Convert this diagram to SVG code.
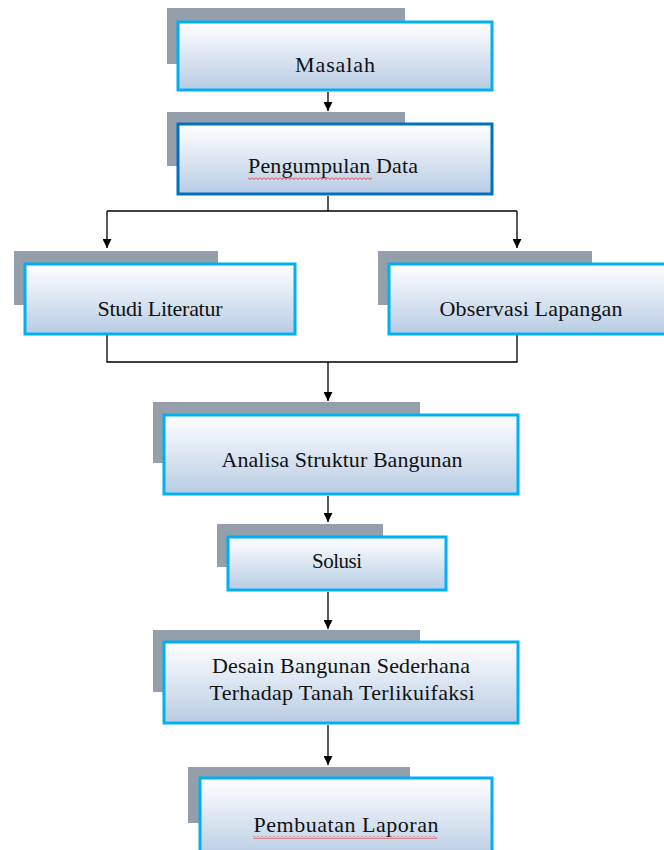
<svg xmlns="http://www.w3.org/2000/svg" width="664" height="850" viewBox="0 0 664 850">
<defs>
<linearGradient id="g" x1="0" y1="0" x2="0" y2="1">
<stop offset="0" stop-color="#ffffff"/>
<stop offset="1" stop-color="#b8cce4"/>
</linearGradient>
<pattern id="wave" x="0" y="0" width="4" height="3" patternUnits="userSpaceOnUse">
<path d="M0,0.5 L2,2.5 L4,0.5" fill="none" stroke="#e02020" stroke-width="0.9"/>
</pattern>
<marker id="ah" viewBox="0 0 10 10" refX="10" refY="5" markerWidth="9" markerHeight="9" markerUnits="userSpaceOnUse" orient="auto">
<path d="M0,0 L10,5 L0,10 z" fill="#000"/>
</marker>
</defs>
<style>
.sh{fill:#949fab}
.bx{fill:url(#g);stroke:#00b0f0;stroke-width:3}
.bx2{fill:url(#g);stroke:#0070c0;stroke-width:3}
.t{font-family:"Liberation Serif","Times New Roman",serif;font-size:22px;fill:#111;text-anchor:middle}
.c{fill:none;stroke:#000;stroke-width:1.3}
.sq{fill:url(#wave)}
</style>
<rect width="664" height="850" fill="#fff"/>
<g id="connectors">
<line class="c" x1="328" y1="92" x2="328" y2="111" marker-end="url(#ah)"/>
<path class="c" d="M328,196 V211 M107,211 H517"/>
<path class="c" d="M107,211 V248" marker-end="url(#ah)"/>
<path class="c" d="M517,211 V248" marker-end="url(#ah)"/>
<path class="c" d="M107,335 V362 H517 V335"/>
<path class="c" d="M328,362 V401" marker-end="url(#ah)"/>
<path class="c" d="M328,496 V522" marker-end="url(#ah)"/>
<path class="c" d="M328,592 V629" marker-end="url(#ah)"/>
<path class="c" d="M328,725 V765" marker-end="url(#ah)"/>
</g>
<g id="masalah">
<rect class="sh" x="167" y="8" width="238" height="56"/>
<rect class="bx" x="178" y="22" width="314" height="68"/>
<text class="t" x="335" y="72" textLength="80">Masalah</text>
</g>
<g id="pengumpulan">
<rect class="sh" x="167" y="112" width="238" height="54"/>
<rect class="bx2" x="178" y="124" width="314" height="70"/>
<text class="t" x="333" y="173" textLength="170">Pengumpulan Data</text>
<rect class="sq" x="248" y="177" width="124" height="3"/>
</g>
<g id="studi">
<rect class="sh" x="14" y="251" width="204" height="54"/>
<rect class="bx" x="25" y="264" width="270" height="70"/>
<text class="t" x="160" y="316" textLength="125">Studi Literatur</text>
</g>
<g id="observasi">
<rect class="sh" x="378" y="251" width="214" height="54"/>
<rect class="bx" x="389" y="264" width="280" height="70"/>
<text class="t" x="531" y="316" textLength="183">Observasi Lapangan</text>
</g>
<g id="analisa">
<rect class="sh" x="153" y="402" width="267" height="61"/>
<rect class="bx" x="164" y="415" width="354" height="79"/>
<text class="t" x="342" y="467" textLength="241">Analisa Struktur Bangunan</text>
</g>
<g id="solusi">
<rect class="sh" x="217" y="524" width="166" height="43"/>
<rect class="bx" x="228" y="537" width="218" height="53"/>
<text class="t" x="337" y="568" textLength="50" style="font-size:21px">Solusi</text>
</g>
<g id="desain">
<rect class="sh" x="153" y="630" width="267" height="62"/>
<rect class="bx" x="164" y="642" width="354" height="81"/>
<text class="t" x="341" y="673" textLength="258">Desain Bangunan Sederhana</text>
<text class="t" x="342" y="700" textLength="265">Terhadap Tanah Terlikuifaksi</text>
</g>
<g id="pembuatan">
<rect class="sh" x="188" y="767" width="222" height="56"/>
<rect class="bx" x="200" y="778" width="292" height="80"/>
<text class="t" x="346" y="832" textLength="185">Pembuatan Laporan</text>
<rect class="sq" x="253" y="836" width="184" height="3"/>
</g>
</svg>
